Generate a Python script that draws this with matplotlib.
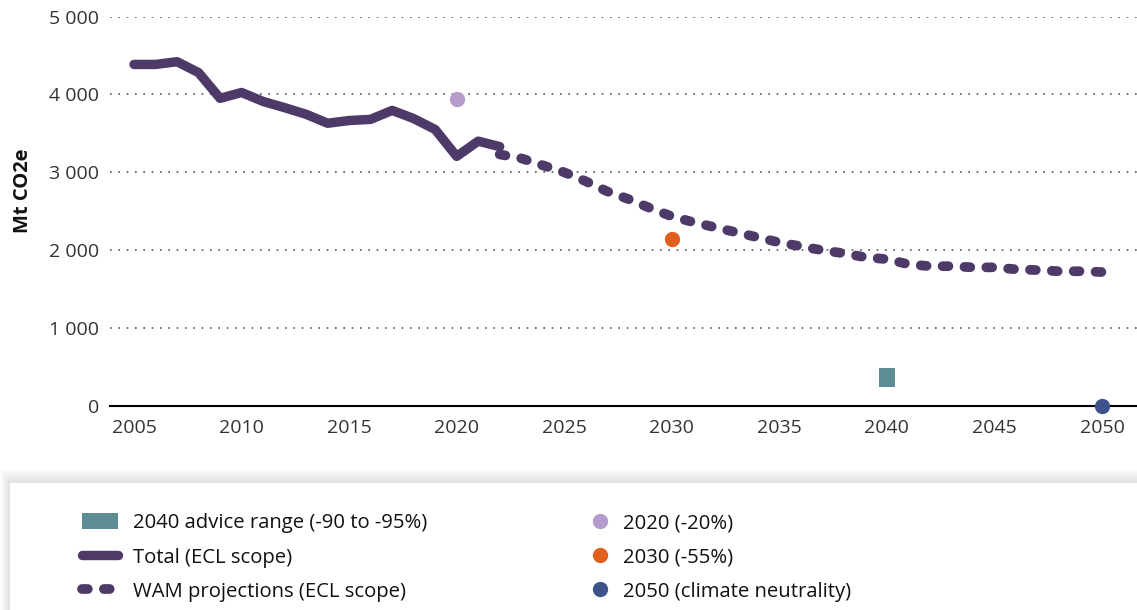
"""Emissions pathway chart: ECL scope totals, WAM projections and targets."""

import matplotlib
matplotlib.use("Agg")
import matplotlib.pyplot as plt
from matplotlib.lines import Line2D
from matplotlib.patches import Patch, Rectangle
from matplotlib.ticker import FuncFormatter

plt.rcParams["font.family"] = ["Open Sans", "DejaVu Sans"]

# Historical totals (ECL scope), Mt CO2e
total_years = list(range(2005, 2023))
total_values = [4385, 4385, 4420, 4280, 3950, 4025, 3910, 3830, 3745, 3630,
                3665, 3680, 3795, 3690, 3550, 3205, 3400, 3330]

# WAM projections (ECL scope)
wam_years = list(range(2022, 2051))
wam_values = [3230, 3180, 3090, 3000, 2885, 2755, 2655, 2540, 2435, 2360,
              2295, 2230, 2165, 2100, 2050, 2000, 1960, 1910, 1885, 1820,
              1795, 1795, 1780, 1780, 1755, 1745, 1730, 1730, 1720]

# Targets
advice_year = 2040
advice_low, advice_high = 245, 490
target_2020 = 3935
target_2030 = 2140
target_2050 = 0

purple = "#4e3a69"
teal = "#5f8d96"
lilac = "#b49bcb"
orange = "#e0601d"
navy = "#3c548b"
wam_dashes = (0.6, 1.65)

fig = plt.figure(figsize=(11.37, 6.10), dpi=100)
ax = fig.add_axes([0.0967, 0.3344, 0.9033, 0.6385])

ax.bar(advice_year, advice_high - advice_low, bottom=advice_low, width=0.75,
       color=teal, zorder=3)
ax.plot(total_years, total_values, color=purple, lw=6.8,
        solid_capstyle="round", solid_joinstyle="round", zorder=4)
ax.plot(wam_years, wam_values, color=purple, lw=7, dashes=wam_dashes,
        dash_capstyle="round", zorder=4)
ax.plot(2020, target_2020, "o", color=lilac, ms=10, zorder=5)
ax.plot(2030, target_2030, "o", color=orange, ms=10, zorder=5)
ax.plot(2050, target_2050, "o", color=navy, ms=10, zorder=5, clip_on=False)

ax.set_xlim(2003.88, 2051.63)
ax.set_ylim(0, 5000)
ax.set_xticks(range(2005, 2051, 5))
ax.set_yticks(range(0, 5001, 1000))
ax.yaxis.set_major_formatter(
    FuncFormatter(lambda v, _: f"{int(v):,}".replace(",", " ")))
ax.tick_params(axis="both", length=0, labelsize=14, colors="#333333")
ax.tick_params(axis="x", pad=9)
ax.tick_params(axis="y", pad=8)

for s in ["top", "right", "left"]:
    ax.spines[s].set_visible(False)
ax.spines["bottom"].set_color("black")
ax.spines["bottom"].set_linewidth(1.5)
ax.spines["bottom"].set_zorder(2)

ax.yaxis.grid(True, linestyle=(0, (1, 4)), color="#555555", lw=1.2)
ax.set_axisbelow(True)
ax.set_ylabel("Mt CO2e", fontsize=14.5, fontweight="bold", color="#111111")
ax.yaxis.set_label_coords(-0.075, 0.553)

# Legend box with soft shadow on top
box_top = 127 / 610
for i in range(10):
    fig.add_artist(Rectangle(
        (10 / 1137 - (10 - i) / 1137, 0), 1.2, box_top + (10 - i) * 1.4 / 610,
        transform=fig.transFigure, facecolor="black", edgecolor="none",
        alpha=0.012, zorder=0))
fig.add_artist(Rectangle(
    (10 / 1137, 0), 1.2, box_top, transform=fig.transFigure,
    facecolor="white", edgecolor="none", zorder=1))

left_handles = [
    Patch(facecolor=teal, edgecolor="none", label="2040 advice range (-90 to -95%)"),
    Line2D([], [], color=purple, lw=6.8, solid_capstyle="round",
           label="Total (ECL scope)"),
    Line2D([], [], color=purple, lw=7, dashes=wam_dashes,
           dash_capstyle="round", label="WAM projections (ECL scope)"),
]
right_handles = [
    Line2D([], [], ls="none", marker="o", color=lilac, ms=10, label="2020 (-20%)"),
    Line2D([], [], ls="none", marker="o", color=orange, ms=10, label="2030 (-55%)"),
    Line2D([], [], ls="none", marker="o", color=navy, ms=10,
           label="2050 (climate neutrality)"),
]
common = dict(loc="upper left", frameon=False, fontsize=14.6,
              handleheight=0.85, labelspacing=0.7, borderpad=0,
              labelcolor="#111111")
leg1 = fig.legend(handles=left_handles,
                  bbox_to_anchor=(72 / 1137, 1 - 503 / 610),
                  handlelength=1.75, handletextpad=0.75, **common)
leg2 = fig.legend(handles=right_handles,
                  bbox_to_anchor=(580 / 1137, 1 - 503 / 610),
                  handlelength=1.0, handletextpad=0.6, **common)
leg1.set_zorder(3)
leg2.set_zorder(3)

fig.savefig("out.png", dpi=100)
